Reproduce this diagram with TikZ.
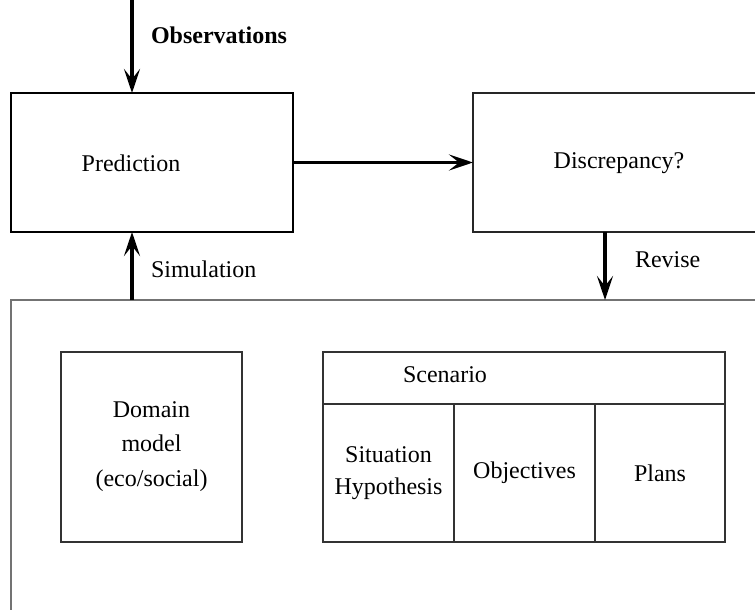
\documentclass[tikz,border=0pt]{standalone}
\usepackage{fontspec}
\setmainfont{Liberation Serif}
\usetikzlibrary{arrows.meta,positioning}
\tikzset{
  >={Stealth[length=24pt,width=16pt,inset=10pt]},
}
\tikzstyle{every node}=[font=\fontsize{24}{32}\selectfont,inner sep=0pt,outer sep=0pt]
\tikzstyle{flow}=[line width=3.2pt,->]
\tikzstyle{box}=[draw,line width=1.2pt,anchor=north west]
\tikzstyle{cell}=[draw=black!80,line width=1.2pt,anchor=north west,align=center]

\begin{document}
\begin{tikzpicture}[x=1pt,y=-1pt]
        \clip (0,0) rectangle (755,610);
        % frame and boxes
        \node[box,draw=black!55,minimum width=790pt,minimum height=340pt] (world) at (11,300) {};
        \node[box,line width=2.5pt,minimum width=282pt,minimum height=139pt] (pred) at (11,93) {};
        \node (predtxt) at (131,163) {Prediction};
        \node[box,draw=black!85,minimum width=292pt,minimum height=139pt] (disc) at (473,93) {};
        \node (disctxt) at (619,163) {Discrepancy?};
        \node[cell,minimum width=181pt,minimum height=190pt] (dom) at (61,352) {Domain\\[2pt]model\\[3pt](eco/social)};
        \node[cell,minimum width=402pt,minimum height=52pt] (scen) at (323,352) {};
        \node (scentxt) at (445,375) {Scenario};
        \node[cell,minimum width=131pt,minimum height=138pt] (sit) at (scen.south west) {Situation\\Hypothesis};
        \node[cell,minimum width=141pt,minimum height=138pt] (obj) at (sit.north east) {Objectives};
        \node[cell,minimum width=130pt,minimum height=138pt] (plan) at (obj.north east) {Plans};
        % arrows
        \coordinate (obs) at (132,0);
        \coordinate (rev) at (605,0);
        \draw[flow] (obs) -- (obs |- pred.north);
        \draw[flow] (pred.east) -- (disc.west);
        \draw[flow] (world.north -| obs) -- (obs |- pred.south);
        \draw[flow] (rev |- disc.south) -- (rev |- world.north);
        \node[anchor=west,font=\fontsize{24}{32}\selectfont\bfseries] (obslbl) at (151,35) {Observations};
        \node[anchor=west] (simlbl) at (151,269) {Simulation};
        \node[anchor=west] (revlbl) at (635,260) {Revise};
      \end{tikzpicture}
\end{document}
